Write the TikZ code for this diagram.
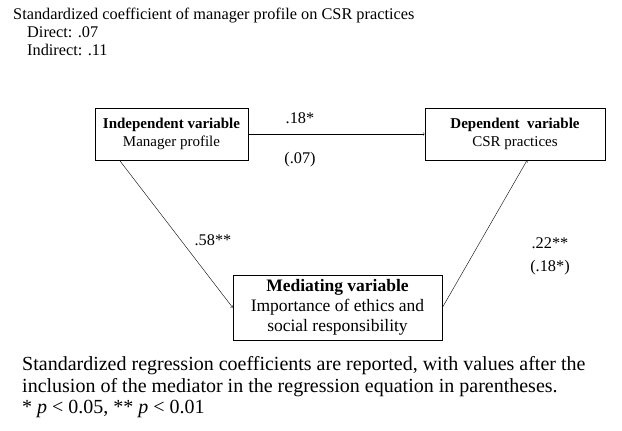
\documentclass[tikz,border=0pt]{standalone}
\usepackage{fontspec}
\setmainfont{Liberation Serif}
\begin{document}
\begin{tikzpicture}[x=1pt, y=-1pt,
    every node/.style={font=\fontsize{16.3}{18.5}\selectfont, inner sep=0pt},
    varbox/.style={rectangle, draw, thick, align=center, inner sep=0pt,
        font=\fontsize{15}{18}\selectfont},
    note/.style={anchor=base west, font=\fontsize{20}{22}\selectfont}]
    \useasboundingbox (0,0) rectangle (622,431);

    % Heading
    \node[anchor=base west] (Head) at (13,19.5) {Standardized coefficient of manager profile on CSR practices};
    \node[anchor=base west] (Direct) at (27,37.5) {Direct: .07};
    \node[anchor=base west] (Indirect) at (27,55.5) {Indirect: .11};

    % Variables
    \node[varbox, minimum width=153pt, minimum height=52pt] (Indep) at (171.5,134) {\textbf{Independent variable}\\Manager profile};
    \node[varbox, minimum width=180pt, minimum height=52pt] (Dep) at (515,134) {\textbf{Dependent~ variable}\\CSR practices};
    \node[varbox, minimum width=209pt, minimum height=65pt, font=\fontsize{17.5}{20}\selectfont] (Med) at (337.5,307.5) {\textbf{Mediating variable}\\Importance of ethics and\\social responsibility};

    % Paths
    \draw[->] (Indep) -- (Dep);
    \draw[->] ([xshift=25pt]Indep.south west) -- (Med.west);
    \draw[->] (Med.east) -- ([xshift=12pt]Dep.south);

    % Coefficients
    \node (CoefA) at (300,118) {.18*};
    \node (CoefB) at (300,160) {(.07)};
    \node (CoefC) at (213,240) {.58**};
    \node (CoefD) at (550,243) {.22**};
    \node (CoefE) at (550,268) {(.18*)};

    % Note
    \node[note] (NoteA) at (22,370) {Standardized regression coefficients are reported, with values after the};
    \node[note] (NoteB) at (22,392) {inclusion of the mediator in the regression equation in parentheses.};
    \node[note] (NoteC) at (22,413) {* \textit{p} < 0.05, ** \textit{p} < 0.01};
\end{tikzpicture}
\end{document}
